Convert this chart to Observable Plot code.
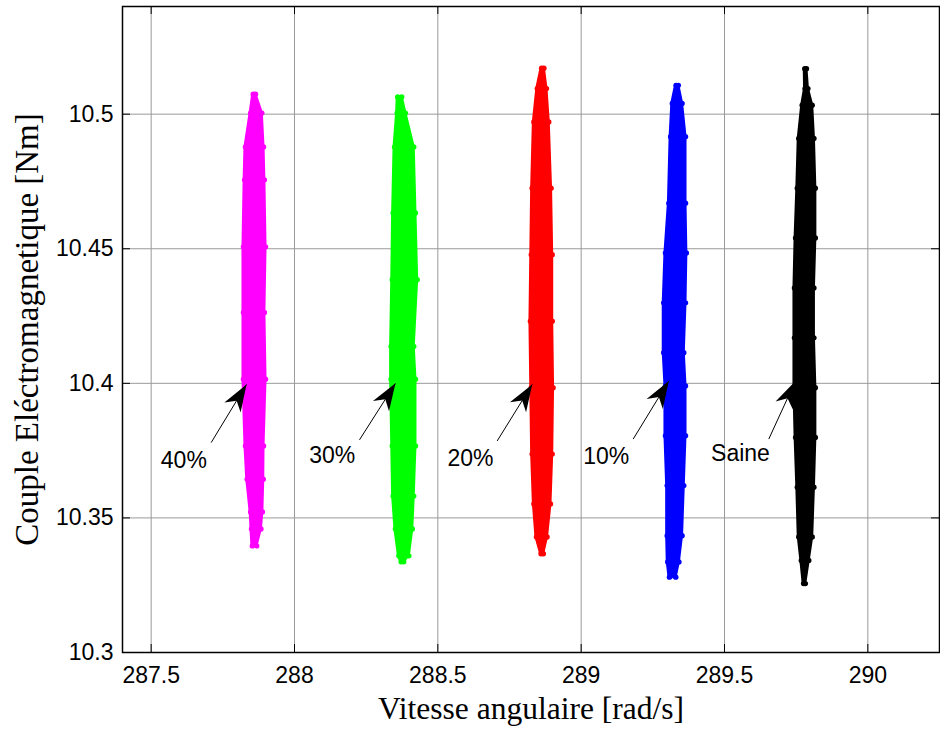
<!DOCTYPE html>
<html>
<head>
<meta charset="utf-8">
<script src="https://cdn.jsdelivr.net/npm/d3@7"></script>
<script src="https://cdn.jsdelivr.net/npm/@observablehq/plot@0.6"></script>
<style>
  html, body { margin: 0; padding: 0; background: #ffffff; }
  #chart svg { display: block; }
</style>
</head>
<body>
<div id="chart"></div>
<script>
// ---- Axis ticks ----
const xTicks = [287.5, 288, 288.5, 289, 289.5, 290];
const yTicks = [10.3, 10.35, 10.4, 10.45, 10.5];
const xDomain = [287.4, 290.25];
const yDomain = [10.3, 10.54];

// ---- Series ----
const seriesNames = ["40%", "30%", "20%", "10%", "Saine"];
const seriesColors = ["#ff00ff", "#00ff00", "#ff0000", "#0000ff", "#000000"];

// Cluster envelopes: torque levels with left / right speed edges
const y40    = [10.5074, 10.5004, 10.4878, 10.4756, 10.4507, 10.4263, 10.4015, 10.3767, 10.3644, 10.3522, 10.3459, 10.3396];
const xMin40 = [287.856, 287.847, 287.829, 287.826, 287.822, 287.822, 287.822, 287.829, 287.835, 287.847, 287.850, 287.853];
const xMax40 = [287.864, 287.886, 287.892, 287.895, 287.899, 287.895, 287.899, 287.892, 287.891, 287.888, 287.883, 287.868];

const y30    = [10.5064, 10.5004, 10.4878, 10.4633, 10.4385, 10.4137, 10.4015, 10.3767, 10.3581, 10.3459, 10.3359, 10.3337];
const xMin30 = [288.360, 288.358, 288.349, 288.344, 288.341, 288.337, 288.337, 288.341, 288.344, 288.352, 288.364, 288.372];
const xMax30 = [288.374, 288.387, 288.416, 288.422, 288.428, 288.416, 288.422, 288.422, 288.416, 288.411, 288.399, 288.381];

const y20    = [10.5171, 10.5095, 10.4971, 10.4725, 10.4478, 10.4231, 10.3984, 10.3737, 10.3552, 10.3429, 10.3367];
const xMin20 = [288.862, 288.847, 288.835, 288.829, 288.826, 288.823, 288.826, 288.829, 288.835, 288.844, 288.860];
const xMax20 = [288.870, 288.879, 288.887, 288.895, 288.899, 288.899, 288.902, 288.899, 288.893, 288.881, 288.868];

const y10    = [10.5107, 10.5040, 10.4916, 10.4669, 10.4484, 10.4299, 10.4114, 10.3990, 10.3805, 10.3620, 10.3434, 10.3336, 10.3280];
const xMin10 = [289.331, 289.318, 289.312, 289.306, 289.294, 289.288, 289.288, 289.294, 289.294, 289.300, 289.300, 289.302, 289.308];
const xMax10 = [289.339, 289.352, 289.364, 289.364, 289.367, 289.364, 289.358, 289.364, 289.364, 289.358, 289.352, 289.341, 289.330];

const ySaine    = [10.5169, 10.5095, 10.5033, 10.4910, 10.4725, 10.4540, 10.4354, 10.4169, 10.3984, 10.3799, 10.3614, 10.3429, 10.3342, 10.3256];
const xMinSaine = [289.780, 289.781, 289.771, 289.759, 289.754, 289.748, 289.744, 289.744, 289.744, 289.748, 289.754, 289.759, 289.768, 289.776];
const xMaxSaine = [289.786, 289.791, 289.806, 289.812, 289.817, 289.817, 289.812, 289.812, 289.817, 289.817, 289.812, 289.806, 289.794, 289.782];

// ---- Annotations ----
const labelTexts = ["40%", "30%", "20%", "10%", "Saine"];
const labelX = [287.614, 288.1315, 288.6139, 289.0877, 289.5558];
const labelY = [10.3712, 10.3730, 10.3719, 10.3727, 10.3739];
const arrowFromX = [287.7094, 288.2267, 288.7071, 289.1815, 289.6545];
const arrowFromY = [10.3780, 10.3790, 10.3786, 10.3793, 10.3793];
const arrowToX = [287.8326, 288.3523, 288.8292, 289.3057, 289.7476];
const arrowToY = [10.3996, 10.4000, 10.3996, 10.4009, 10.4009];

const xTitle = "Vitesse angulaire [rad/s]";
const yTitle = "Couple Eléctromagnetique [Nm]";

// ---- Build tables ----
const clusters = [
  {name: "40%", ys: y40, lo: xMin40, hi: xMax40},
  {name: "30%", ys: y30, lo: xMin30, hi: xMax30},
  {name: "20%", ys: y20, lo: xMin20, hi: xMax20},
  {name: "10%", ys: y10, lo: xMin10, hi: xMax10},
  {name: "Saine", ys: ySaine, lo: xMinSaine, hi: xMaxSaine}
];
const envelope = clusters.flatMap(c => c.ys.map((y, i) => ({series: c.name, y, x1: c.lo[i], x2: c.hi[i]})));
const edges = envelope.flatMap(d => [
  {series: d.series, y: d.y, x: d.x1},
  {series: d.series, y: d.y, x: d.x2}
]);
const labels = labelTexts.map((t, i) => ({text: t, x: labelX[i], y: labelY[i]}));
const arrows = labelTexts.map((t, i) => ({x1: arrowFromX[i], y1: arrowFromY[i], x2: arrowToX[i], y2: arrowToY[i]}));

// Filled, swept-back arrowhead (MATLAB annotation style)
function filledArrow(color, context) {
  const doc = (context && context.document) || document;
  const ns = "http://www.w3.org/2000/svg";
  const marker = doc.createElementNS(ns, "marker");
  marker.setAttribute("viewBox", "-30 -15 32 30");
  marker.setAttribute("markerWidth", "32");
  marker.setAttribute("markerHeight", "30");
  marker.setAttribute("markerUnits", "userSpaceOnUse");
  marker.setAttribute("refX", "0");
  marker.setAttribute("refY", "0");
  marker.setAttribute("orient", "auto");
  const path = doc.createElementNS(ns, "path");
  path.setAttribute("d", "M0,0L-27,-9.5L-19,0L-27,9.5Z");
  path.setAttribute("fill", "#000");
  path.setAttribute("stroke", "none");
  marker.appendChild(path);
  return marker;
}

const W = 940, H = 733;
const mL = 122, mR = 1, mT = 6, mB = 81;
const plotW = W - mL - mR, plotH = H - mT - mB;
const tickLen = 8;
const gridColor = "#9a9a9a";
const sansFont = "Arial, 'Liberation Sans', Helvetica, sans-serif";
const serifFont = "'Times New Roman', 'Liberation Serif', serif";

const chart = Plot.plot({
  width: W,
  height: H,
  marginLeft: mL,
  marginRight: mR,
  marginTop: mT,
  marginBottom: mB,
  style: {fontFamily: sansFont, fontSize: "23px", background: "#ffffff", color: "#000"},
  x: {domain: xDomain, ticks: xTicks, tickSize: 0, tickPadding: 14, tickFormat: d => String(d), label: null},
  y: {domain: yDomain, ticks: yTicks, tickSize: 0, tickPadding: 9, tickFormat: d => String(d), label: null},
  color: {domain: seriesNames, range: seriesColors},
  marks: [
    // grid
    Plot.ruleX(xTicks, {stroke: gridColor, strokeWidth: 1}),
    Plot.ruleY(yTicks, {stroke: gridColor, strokeWidth: 1}),
    // clusters
    Plot.areaX(envelope, {y: "y", x1: "x1", x2: "x2", z: "series", fill: "series", stroke: "series", strokeWidth: 3, strokeLinejoin: "round", curve: "linear"}),
    Plot.dot(edges, {x: "x", y: "y", r: 2.7, fill: "series", stroke: "none"}),
    // inward ticks on all four sides
    Plot.ruleX(xTicks, {stroke: "#000", strokeWidth: 1, insetTop: plotH - tickLen}),
    Plot.ruleX(xTicks, {stroke: "#000", strokeWidth: 1, insetBottom: plotH - tickLen}),
    Plot.ruleY(yTicks, {stroke: "#000", strokeWidth: 1, insetRight: plotW - tickLen}),
    Plot.ruleY(yTicks, {stroke: "#000", strokeWidth: 1, insetLeft: plotW - tickLen}),
    Plot.frame({stroke: "#000", strokeWidth: 1.5}),
    // annotations
    Plot.link(arrows, {x1: "x1", y1: "y1", x2: "x2", y2: "y2", stroke: "#000", strokeWidth: 1, markerEnd: filledArrow}),
    Plot.text(labels, {x: "x", y: "y", text: "text", fontSize: 23, fontFamily: sansFont, fill: "#000", textAnchor: "middle", lineAnchor: "middle"}),
    // axis titles
    Plot.text([xTitle], {frameAnchor: "bottom", text: d => d, dy: 66, lineAnchor: "bottom", textAnchor: "middle", fontSize: 31.5, fontFamily: serifFont, fill: "#000"}),
    Plot.text([yTitle], {frameAnchor: "left", text: d => d, dx: -85, rotate: -90, lineAnchor: "bottom", textAnchor: "middle", fontSize: 33, fontFamily: serifFont, fill: "#000"})
  ]
});
document.getElementById("chart").appendChild(chart);
</script>
</body>
</html>
